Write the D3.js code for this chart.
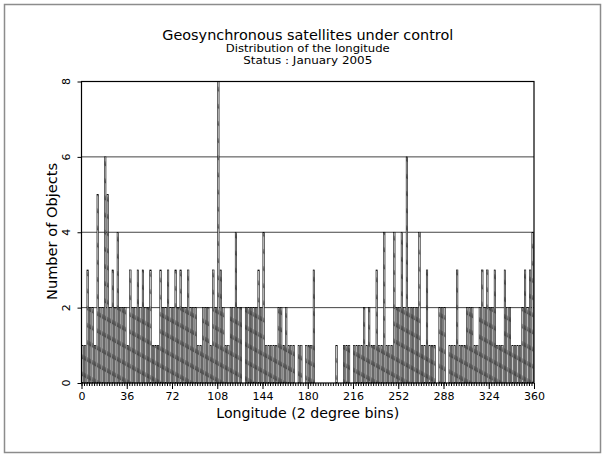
<!DOCTYPE html>
<html>
<head>
<meta charset="utf-8">
<script src="https://d3js.org/d3.v7.min.js"></script>
<style>
  body { margin: 0; background: #fff; }
  text { font-family: "DejaVu Sans", sans-serif; fill: #000; }
</style>
</head>
<body>
<div id="content"></div>
<script>
// Number of objects per 2 degree longitude bin, 18 bins (36 deg) per row.
var counts = [
    1, 1, 3, 2, 2, 1, 5, 2, 2, 6, 5, 2, 3, 2, 4, 2, 2, 2,
    1, 3, 2, 2, 3, 2, 3, 2, 2, 3, 1, 1, 1, 3, 2, 2, 3, 2,
    2, 3, 2, 3, 2, 2, 3, 2, 2, 2, 1, 1, 2, 2, 2, 1, 3, 2,
    8, 3, 2, 1, 1, 2, 2, 4, 2, 2, 0, 2, 2, 2, 2, 2, 3, 2,
    4, 1, 1, 1, 1, 1, 2, 2, 1, 2, 1, 1, 1, 0, 1, 1, 0, 1,
    1, 1, 3, 0, 0, 0, 0, 0, 0, 0, 0, 1, 0, 0, 1, 1, 1, 0,
    1, 1, 1, 1, 2, 1, 2, 1, 1, 3, 1, 1, 4, 1, 1, 1, 4, 2,
    2, 4, 2, 6, 2, 2, 2, 2, 4, 1, 1, 3, 1, 1, 1, 0, 2, 2,
    2, 0, 1, 1, 1, 3, 1, 1, 1, 2, 2, 2, 1, 1, 2, 3, 2, 3,
    2, 2, 3, 1, 1, 1, 3, 2, 2, 1, 1, 1, 1, 2, 3, 2, 3, 4
];
var binSize = 2;
var xTickLabels = [0, 36, 72, 108, 144, 180, 216, 252, 288, 324, 360];
var yTickLabels = [0, 2, 4, 6, 8];
var titleLines = ['Geosynchronous satellites under control',
                  'Distribution of the longitude',
                  'Status : January 2005'];

// table of bins for the join (start longitude + count)
var bins = counts.map(function(c, i) { return {lon: i * binSize, count: c}; });

var W = 605, H = 457;
var svg = d3.select('#content').append('svg')
    .attr('width', W)
    .attr('height', H);

// outer frame
svg.append('rect')
    .attr('x', 4.5).attr('y', 4.5)
    .attr('width', 596).attr('height', 448)
    .attr('fill', 'none')
    .attr('stroke', '#8c8c8c')
    .attr('stroke-width', 1.5);

var x = d3.scaleLinear().domain([0, 360]).range([81.5, 534]);
var y = d3.scaleLinear().domain([0, 8]).range([383, 81.5]);

// hatch pattern shared by all bars (lines run down to the right)
var defs = svg.append('defs');
var pat = defs.append('pattern')
    .attr('id', 'hatch')
    .attr('patternUnits', 'userSpaceOnUse')
    .attr('width', 10).attr('height', 15)
    .attr('patternTransform', 'rotate(29)');
pat.append('rect').attr('width', 10).attr('height', 15).attr('fill', '#cdcdcd');
[1, 2.3, 3.6].forEach(function(o) {
    pat.append('line')
        .attr('x1', 0).attr('x2', 10)
        .attr('y1', o).attr('y2', o)
        .attr('stroke', '#1a1a1a')
        .attr('stroke-width', 0.6);
});

// grid lines
svg.append('g').selectAll('line')
    .data(yTickLabels.filter(function(d) { return d > 0 && d < 8; }))
    .enter().append('line')
    .attr('x1', x(0)).attr('x2', x(360))
    .attr('y1', function(d) { return y(d); })
    .attr('y2', function(d) { return y(d); })
    .attr('stroke', '#444')
    .attr('stroke-width', 1);

// bars
var bw = x(binSize) - x(0);
svg.append('g').selectAll('rect')
    .data(bins.filter(function(d) { return d.count > 0; }))
    .enter().append('rect')
    .attr('x', function(d) { return x(d.lon) + 0.35; })
    .attr('y', function(d) { return y(d.count); })
    .attr('width', bw - 1)
    .attr('height', function(d) { return y(0) - y(d.count); })
    .attr('fill', 'url(#hatch)')
    .attr('stroke', '#000')
    .attr('stroke-width', 0.55);

// plot frame
svg.append('rect')
    .attr('x', x(0)).attr('y', y(8))
    .attr('width', x(360) - x(0)).attr('height', y(0) - y(8))
    .attr('fill', 'none')
    .attr('stroke', '#000')
    .attr('stroke-width', 1.2);

// x axis: minor tick per bin, major tick at labels
svg.append('g')
    .attr('transform', 'translate(0,' + y(0) + ')')
    .call(d3.axisBottom(x).tickValues(d3.range(0, 361, binSize)).tickSize(3).tickFormat(''))
    .call(function(g) { g.select('.domain').remove(); });

svg.append('g')
    .attr('transform', 'translate(0,' + y(0) + ')')
    .call(d3.axisBottom(x).tickValues(xTickLabels).tickSize(6).tickPadding(3))
    .call(function(g) {
        g.select('.domain').remove();
        g.selectAll('text')
            .attr('font-size', 11)
            .attr('font-family', 'DejaVu Sans');
    });

// y axis ticks and rotated labels
svg.append('g')
    .attr('transform', 'translate(' + x(0) + ',0)')
    .call(d3.axisLeft(y).tickValues(yTickLabels).tickSize(4).tickFormat(''))
    .call(function(g) { g.select('.domain').remove(); });

svg.append('g').selectAll('text')
    .data(yTickLabels)
    .enter().append('text')
    .attr('transform', function(d) { return 'translate(70,' + y(d) + ') rotate(-90)'; })
    .attr('text-anchor', 'middle')
    .attr('font-size', 11)
    .text(function(d) { return d; });

// titles
var cx = (x(0) + x(360)) / 2;
svg.append('text')
    .attr('x', cx).attr('y', 40)
    .attr('text-anchor', 'middle')
    .attr('font-size', 14)
    .attr('textLength', 291)
    .attr('lengthAdjust', 'spacingAndGlyphs')
    .text(titleLines[0]);
svg.append('text')
    .attr('x', cx).attr('y', 52)
    .attr('text-anchor', 'middle')
    .attr('font-size', 10.5)
    .attr('textLength', 164)
    .attr('lengthAdjust', 'spacingAndGlyphs')
    .text(titleLines[1]);
svg.append('text')
    .attr('x', cx).attr('y', 64)
    .attr('text-anchor', 'middle')
    .attr('font-size', 10.5)
    .attr('textLength', 129)
    .attr('lengthAdjust', 'spacingAndGlyphs')
    .text(titleLines[2]);

// axis titles
svg.append('text')
    .attr('x', cx).attr('y', 418)
    .attr('text-anchor', 'middle')
    .attr('font-size', 14)
    .attr('textLength', 183)
    .attr('lengthAdjust', 'spacingAndGlyphs')
    .text('Longitude (2 degree bins)');
svg.append('text')
    .attr('transform', 'translate(57,' + 231.5 + ') rotate(-90)')
    .attr('text-anchor', 'middle')
    .attr('font-size', 14)
    .attr('textLength', 137)
    .attr('lengthAdjust', 'spacingAndGlyphs')
    .text('Number of Objects');
</script>
</body>
</html>
